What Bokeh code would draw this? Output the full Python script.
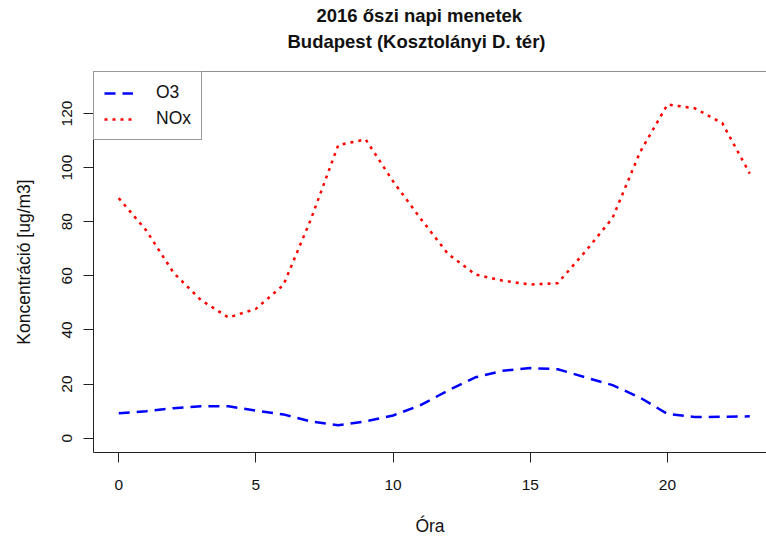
from bokeh.plotting import figure
from bokeh.models import (Range1d, FixedTicker, Legend, LegendItem, Title, Span)
from bokeh.embed import file_html
from bokeh.resources import INLINE

# Autumn 2016 mean diurnal cycle, Budapest (Kosztolányi D. tér)
hours = list(range(24))
o3 = [9.2, 10.0, 11.1, 11.8, 11.8, 10.2, 8.8, 6.2, 4.8, 6.2, 8.4, 12.2,
      17.6, 22.5, 24.9, 25.9, 25.5, 22.5, 19.6, 15.0, 9.0, 7.8, 7.9, 8.1]
nox = [88.7, 76.8, 61.1, 51.0, 44.6, 47.8, 56.6, 80.8, 108.3, 110.4, 94.9, 81.2,
       68.1, 60.5, 58.2, 56.8, 57.3, 68.9, 81.4, 105.7, 123.3, 121.9, 116.4, 97.8]

x_ticks = [0, 5, 10, 15, 20]
y_ticks = [0, 20, 40, 60, 80, 100, 120]
title_lines = ["2016 őszi napi menetek", "Budapest (Kosztolányi D. tér)"]
x_label = "Óra"
y_label = "Koncentráció [ug/m3]"
series_names = ["O3", "NOx"]

FONT = "Liberation Sans"
INK = "#111111"

X0, X1 = -0.92, 23.61
Y0, Y1 = -5.28, 135.5

p = figure(width=766, height=539, output_backend="svg", toolbar_location=None,
           x_range=Range1d(X0, X1), y_range=Range1d(Y0, Y1),
           min_border_left=93, min_border_right=0, min_border_top=71,
           min_border_bottom=87)
p.outline_line_color = None
p.xgrid.visible = False
p.ygrid.visible = False
p.background_fill_color = "white"
p.border_fill_color = "white"

# curves
r_o3 = p.line(hours, o3, line_color="blue", line_width=2.5, line_dash="11 7")
r_nox = p.line(hours, nox, line_color="red", line_width=2.5, line_dash="3 5")

# axes
for ax in (p.xaxis[0], p.yaxis[0]):
    ax.axis_line_color = "#222222"
    ax.axis_line_width = 1
    ax.major_tick_line_color = "#222222"
    ax.major_tick_out = 10
    ax.major_tick_in = 0
    ax.minor_tick_line_color = None
    ax.major_label_text_font = FONT
    ax.major_label_text_font_size = "15.5px"
    ax.major_label_text_color = INK
    ax.axis_label_text_font = FONT
    ax.axis_label_text_font_size = "17.5px"
    ax.axis_label_text_font_style = "normal"
    ax.axis_label_text_color = INK

p.xaxis.ticker = FixedTicker(ticks=x_ticks)
p.yaxis.ticker = FixedTicker(ticks=y_ticks)
p.xaxis.axis_label = x_label
p.yaxis.axis_label = y_label
p.xaxis.major_label_standoff = 17
p.xaxis.axis_label_standoff = 23
p.yaxis.major_label_orientation = "vertical"
p.yaxis.major_label_standoff = 11
p.yaxis.axis_label_standoff = 26

# top edge of the plot box
p.add_layout(Span(location=Y1, dimension="width", line_color="#222222", line_width=1))

# blank gap between the plot box and the title block
p.add_layout(Title(text=" ", text_font_size="1px", standoff=17), "above")

# two-line title: the second line sits nearest the plot
for txt, off, standoff in [(title_lines[1], 194, 0), (title_lines[0], 223, 5)]:
    p.add_layout(Title(text=txt, align="left", offset=off, standoff=standoff,
                       text_font=FONT, text_font_size="18.5px",
                       text_font_style="bold", text_color=INK), "above")

legend = Legend(items=[LegendItem(label=series_names[0], renderers=[r_o3]),
                       LegendItem(label=series_names[1], renderers=[r_nox])],
                location="top_left")
legend.margin = 0
legend.padding = 10
legend.spacing = 5
legend.glyph_width = 29
legend.glyph_height = 20
legend.label_height = 20
legend.label_standoff = 23
legend.label_text_font = FONT
legend.label_text_font_size = "17.5px"
legend.label_text_color = INK
legend.border_line_color = "#333333"
legend.border_line_width = 1
legend.background_fill_color = "white"
legend.background_fill_alpha = 1.0
p.add_layout(legend)

open("out.html", "w").write(file_html(p, INLINE))
